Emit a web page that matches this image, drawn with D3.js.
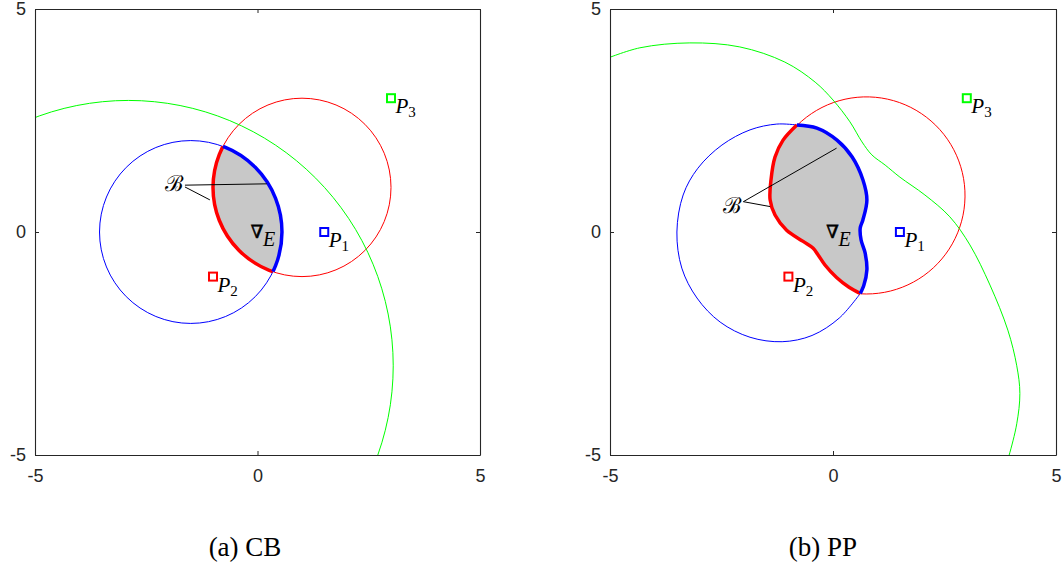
<!DOCTYPE html>
<html>
<head>
<meta charset="utf-8">
<script src="https://cdnjs.cloudflare.com/ajax/libs/d3/7.8.5/d3.min.js"></script>
<style>
  body { margin: 0; background: #fff; }
  .tick text { font-family: "Liberation Sans", Arial, sans-serif; font-size: 18px; fill: #262626; }
  .domain, .tick line { stroke: #262626; }
</style>
</head>
<body>
<div class="chart"></div>
<script>
var svgWidth = 1063;
var svgHeight = 581;

var tickValues = [-5, 0, 5];

// points P1..P3 (same in both panels) and E
var pointNames = ["1", "2", "3"];
var pointX = [1.5, -1, 3];
var pointY = [0, -1, 3];
var pointColors = ["#0000ff", "#ff0000", "#00ff00"];
var eXY = [0, 0];

// (a) CB: circles as [cx, cy, r]
var cbBlue = [-1.5, 0, 2.05];
var cbRed = [1, 1, 2.0];
var cbGreen = [-2.9, -3.0, 5.95];

// (b) PP: red circle [cx, cy, r] and curves
var ppRedCircle = [0.75, 0.82, 2.21];
var ppBlueThin = [[-0.81, 2.40], [-1.26, 2.42], [-1.86, 2.29], [-2.49, 1.95], [-3.03, 1.43],
  [-3.36, 0.83], [-3.50, 0], [-3.39, -0.81], [-3.05, -1.48], [-2.53, -2.02], [-1.86, -2.36],
  [-1.14, -2.46], [-0.47, -2.32], [0.14, -1.93], [0.61, -1.38]];
var ppBlueThick = [[-0.81, 2.40], [-0.36, 2.33], [0.09, 2.06], [0.43, 1.68], [0.67, 1.17],
  [0.76, 0.72], [0.67, 0.27], [0.61, 0.09], [0.63, -0.18], [0.72, -0.47], [0.76, -0.85],
  [0.69, -1.20], [0.61, -1.38]];
var ppRedThick = [[-0.81, 2.40], [-1.12, 2.06], [-1.30, 1.68], [-1.39, 1.17], [-1.41, 0.72],
  [-1.30, 0.38], [-1.04, 0.04], [-0.67, -0.21], [-0.45, -0.36], [-0.33, -0.52], [-0.18, -0.74],
  [0.08, -1.02], [0.36, -1.24], [0.61, -1.38]];
var ppGreen = [[-5.1, 3.88], [-4.33, 4.13], [-3.21, 4.24], [-2.09, 4.15], [-1.08, 3.81],
  [-0.40, 3.36], [0, 2.96], [0.38, 2.47], [0.65, 2.02], [0.87, 1.73], [1.17, 1.50],
  [1.50, 1.23], [2.06, 0.83], [2.62, 0.34], [3.07, -0.29], [3.52, -1.19], [3.92, -2.20],
  [4.12, -3.00], [4.19, -3.62], [4.12, -4.30], [3.95, -5.0], [3.90, -5.15]];

// "B" labels and their leader lines
var cbLabelB = [-1.87, 1.07];
var cbLeaders = [[[-1.63, 1.05], [0.21, 1.08]], [[-1.63, 1.01], [-1.07, 0.72]]];
var ppLabelB = [-2.27, 0.59];
var ppLeaders = [[[-2.01, 0.68], [0.08, 1.88]], [[-2.01, 0.68], [-1.41, 0.57]]];

var captions = ["(a) CB", "(b) PP"];

var svg = d3.select(".chart").append("svg")
  .attr("width", svgWidth)
  .attr("height", svgHeight);

var defs = svg.append("defs");

function makePanel(id, left, right) {
  var x = d3.scaleLinear().domain([-5, 5]).range([left, right]);
  var y = d3.scaleLinear().domain([-5, 5]).range([455, 9]);

  defs.append("clipPath").attr("id", "plot" + id)
    .append("rect")
    .attr("x", left).attr("y", 9)
    .attr("width", right - left).attr("height", 446);

  var g = svg.append("g");
  var plot = g.append("g").attr("clip-path", "url(#plot" + id + ")");
  return { x: x, y: y, g: g, plot: plot, left: left, right: right };
}

function drawAxes(p) {
  var fmt = function(d) { return String(d); };
  p.g.append("g")
    .attr("transform", "translate(0,455)")
    .call(d3.axisBottom(p.x).tickValues(tickValues).tickSizeInner(-4).tickSizeOuter(0)
      .tickPadding(14).tickFormat(fmt));
  p.g.append("g")
    .attr("transform", "translate(0,9)")
    .call(d3.axisTop(p.x).tickValues(tickValues).tickSizeInner(-4).tickSizeOuter(0)
      .tickFormat(""));
  p.g.append("g")
    .attr("transform", "translate(" + p.left + ",0)")
    .call(d3.axisLeft(p.y).tickValues(tickValues).tickSizeInner(-4).tickSizeOuter(0)
      .tickPadding(9).tickFormat(fmt));
  p.g.append("g")
    .attr("transform", "translate(" + p.right + ",0)")
    .call(d3.axisRight(p.y).tickValues(tickValues).tickSizeInner(-4).tickSizeOuter(0)
      .tickFormat(""));
  p.g.selectAll(".domain").attr("stroke-width", 1.1);
}

function ellipse(sel, p, c) {
  return sel.append("ellipse")
    .attr("cx", p.x(c[0]))
    .attr("cy", p.y(c[1]))
    .attr("rx", p.x(c[0] + c[2]) - p.x(c[0]))
    .attr("ry", p.y(c[1]) - p.y(c[1] + c[2]));
}

function drawPoints(p) {
  pointX.forEach(function(px, i) {
    p.g.append("rect")
      .attr("x", p.x(px) - 4).attr("y", p.y(pointY[i]) - 4)
      .attr("width", 8).attr("height", 8)
      .attr("fill", "none")
      .attr("stroke", pointColors[i])
      .attr("stroke-width", 2);
    var t = p.g.append("text")
      .attr("x", p.x(px) + 4.5)
      .attr("y", p.y(pointY[i]) + 15)
      .attr("font-family", "'Liberation Serif', 'Times New Roman', serif")
      .attr("font-style", "italic")
      .attr("font-size", 21)
      .text("P");
    t.append("tspan")
      .attr("font-style", "normal")
      .attr("font-size", 15)
      .attr("dy", 4)
      .text(pointNames[i]);
  });

  p.g.append("text")
    .attr("x", p.x(eXY[0]) - 0.5)
    .attr("y", p.y(eXY[1]) + 6)
    .attr("text-anchor", "middle")
    .attr("font-family", "'DejaVu Serif', serif")
    .attr("font-size", 18)
    .attr("stroke", "#000")
    .attr("stroke-width", 0.6)
    .text("\u2207");
  p.g.append("text")
    .attr("x", p.x(eXY[0]) + 5.5)
    .attr("y", p.y(eXY[1]) + 14)
    .attr("font-family", "'Liberation Serif', 'Times New Roman', serif")
    .attr("font-style", "italic")
    .attr("font-size", 20)
    .text("E");
}

function drawLabelB(p, pos, leaders) {
  leaders.forEach(function(l) {
    p.g.append("line")
      .attr("x1", p.x(l[0][0])).attr("y1", p.y(l[0][1]))
      .attr("x2", p.x(l[1][0])).attr("y2", p.y(l[1][1]))
      .attr("stroke", "#000")
      .attr("stroke-width", 1);
  });
  p.g.append("text")
    .attr("x", p.x(pos[0]))
    .attr("y", p.y(pos[1]) + 7)
    .attr("text-anchor", "middle")
    .attr("font-family", "'DejaVu Serif', serif")
    .attr("font-size", 22)
    .text("\u212C");
}

// ---------- (a) CB ----------
var a = makePanel("A", 35, 480);

ellipse(defs.append("clipPath").attr("id", "diskBlueA"), a, cbBlue);
ellipse(defs.append("clipPath").attr("id", "diskRedA"), a, cbRed);

ellipse(a.plot, a, cbBlue).attr("fill", "none").attr("stroke", "#0000ff").attr("stroke-width", 1);
ellipse(a.plot, a, cbRed).attr("fill", "none").attr("stroke", "#ff0000").attr("stroke-width", 1);

ellipse(a.plot, a, cbRed)
  .attr("clip-path", "url(#diskBlueA)")
  .attr("fill", "#c8c8c8")
  .attr("stroke", "#ff0000")
  .attr("stroke-width", 3.5);
ellipse(a.plot, a, cbBlue)
  .attr("clip-path", "url(#diskRedA)")
  .attr("fill", "none")
  .attr("stroke", "#0000ff")
  .attr("stroke-width", 3.5);

ellipse(a.plot, a, cbGreen).attr("fill", "none").attr("stroke", "#00ff00").attr("stroke-width", 1);

drawAxes(a);
drawLabelB(a, cbLabelB, cbLeaders);
drawPoints(a);

// ---------- (b) PP ----------
var b = makePanel("B", 610, 1056);

var line = d3.line()
  .x(function(d) { return b.x(d[0]); })
  .y(function(d) { return b.y(d[1]); })
  .curve(d3.curveCatmullRom.alpha(0.5));

b.plot.append("path").attr("d", line(ppBlueThin))
  .attr("fill", "none").attr("stroke", "#0000ff").attr("stroke-width", 1);

// thin red: the part of the circle outside the shaded region, between the two junctions
var rc = [b.x(ppRedCircle[0]), b.y(ppRedCircle[1])];
var rr = b.x(ppRedCircle[0] + ppRedCircle[2]) - b.x(ppRedCircle[0]);
var jTop = ppRedThick[0];
var jBot = ppRedThick[ppRedThick.length - 1];
var a0 = Math.atan2(b.y(jTop[1]) - rc[1], b.x(jTop[0]) - rc[0]);
var a1 = Math.atan2(b.y(jBot[1]) - rc[1], b.x(jBot[0]) - rc[0]);
var redArc = d3.path();
redArc.arc(rc[0], rc[1], rr, a0, a1, false);
b.plot.append("path").attr("d", redArc.toString())
  .attr("fill", "none").attr("stroke", "#ff0000").attr("stroke-width", 1);

b.plot.append("path")
  .attr("d", line(ppRedThick) + line(ppBlueThick.slice().reverse()).replace(/^M/, "L") + "Z")
  .attr("fill", "#c8c8c8");

b.plot.append("path").attr("d", line(ppRedThick))
  .attr("fill", "none").attr("stroke", "#ff0000").attr("stroke-width", 3.5);
b.plot.append("path").attr("d", line(ppBlueThick))
  .attr("fill", "none").attr("stroke", "#0000ff").attr("stroke-width", 3.5);

b.plot.append("path").attr("d", line(ppGreen))
  .attr("fill", "none").attr("stroke", "#00ff00").attr("stroke-width", 1);

drawAxes(b);
drawLabelB(b, ppLabelB, ppLeaders);
drawPoints(b);

// captions
svg.selectAll(".caption")
  .data(captions)
  .enter()
  .append("text")
  .attr("class", "caption")
  .attr("x", function(d, i) { return i === 0 ? 245 : 823; })
  .attr("y", 556)
  .attr("text-anchor", "middle")
  .attr("font-family", "'Liberation Serif', 'Times New Roman', serif")
  .attr("font-size", 27)
  .attr("fill", "#000")
  .text(function(d) { return d; });
</script>
</body>
</html>
